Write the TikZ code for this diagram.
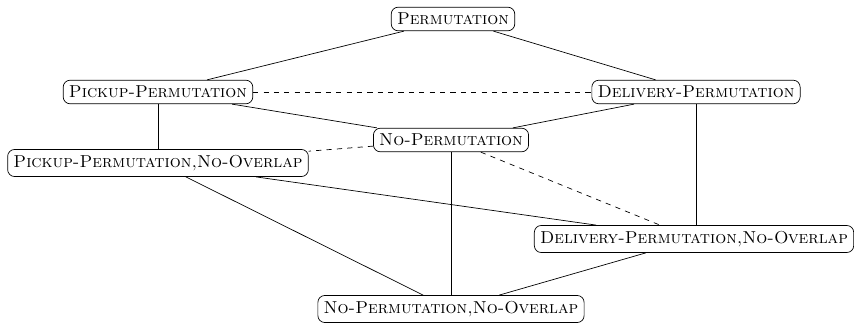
\documentclass[tikz,border=0pt]{standalone}
\begin{document}
\begin{tikzpicture}[
        x=0.578pt, y=-0.578pt,
        lattice/.style={draw, rounded corners, font=\scshape}
        ]
        \useasboundingbox (0,0) rectangle (854,324);
        \node [lattice] (P) at (453,19) {Permutation};
        \node [lattice] (PP) at (158,92) {Pickup-Permutation};
        \node [lattice] (DP) at (696,92) {Delivery-Permutation};
        \node [lattice] (NP) at (451,140) {No-Permutation};
        \node [lattice] (PPNO) at (158,163) {Pickup-Permutation,No-Overlap};
        \node [lattice] (DPNO) at (694,239) {Delivery-Permutation,No-Overlap};
        \node [lattice] (NPNO) at (451,309) {No-Permutation,No-Overlap};

        \draw (P) -- (PP);
        \draw (P) -- (DP);
        \draw [dashed] (PP) -- (DP);
        \draw (PP) -- (NP);
        \draw (DP) -- (NP);
        \draw (PP) -- (PPNO);
        \draw (DP) -- (DP |- DPNO.north);
        \draw [dashed] (NP) -- (PPNO);
        \draw [dashed] (NP) -- (DPNO);
        \draw (NP) -- (NPNO);
        \draw (PPNO) -- (DPNO);
        \draw (PPNO) -- (NPNO);
        \draw (DPNO) -- (NPNO);
\end{tikzpicture}
\end{document}
